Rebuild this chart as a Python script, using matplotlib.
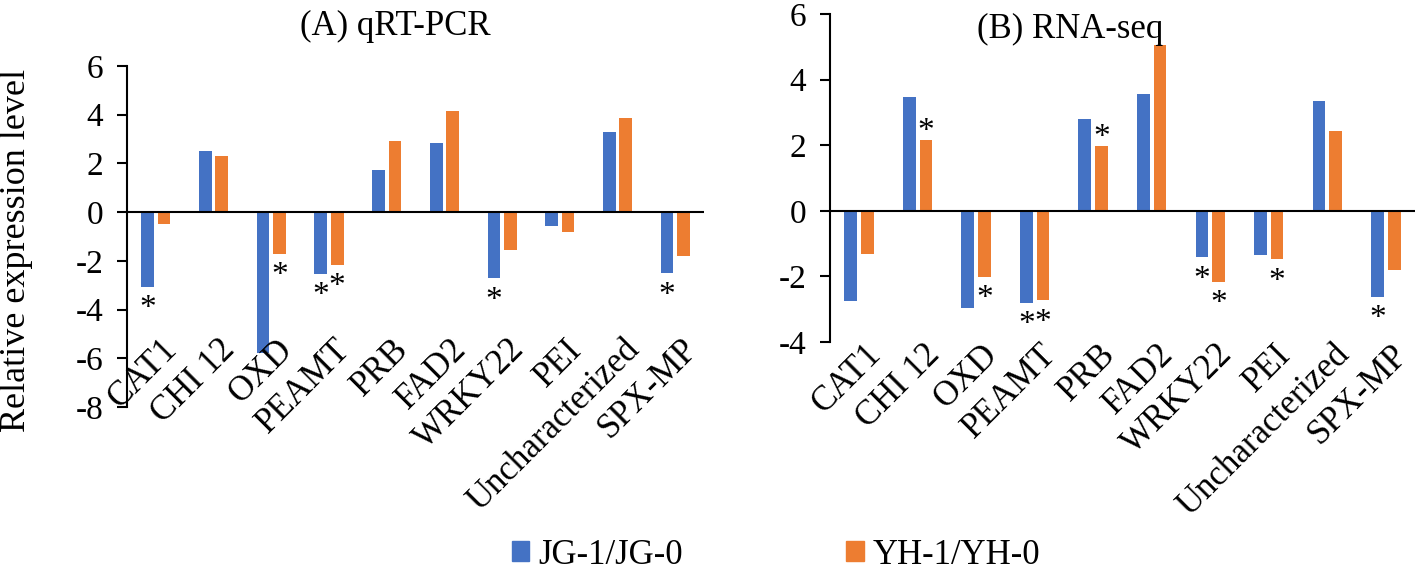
import matplotlib.pyplot as plt
from matplotlib.patches import Patch
import numpy as np

plt.rcParams['font.family'] = ['Liberation Serif', 'DejaVu Serif']

genes = ['CAT1', 'CHI 12', 'OXD', 'PEAMT', 'PRB', 'FAD2', 'WRKY22', 'PEI',
         'Uncharacterized', 'SPX-MP']

# (A) qRT-PCR
qpcr_jg = [-3.07, 2.49, -5.80, -2.53, 1.75, 2.82, -2.71, -0.55, 3.30, -2.50]
qpcr_yh = [-0.50, 2.30, -1.70, -2.15, 2.92, 4.16, -1.56, -0.81, 3.85, -1.80]
# (B) RNA-seq
seq_jg = [-2.74, 3.47, -2.97, -2.80, 2.81, 3.56, -1.42, -1.35, 3.36, -2.62]
seq_yh = [-1.33, 2.16, -2.01, -2.72, 1.98, 5.05, -2.16, -1.47, 2.44, -1.80]

# significance marks (1 = *)
qpcr_jg_sig = [1, 0, 0, 1, 0, 0, 1, 0, 0, 1]
qpcr_yh_sig = [0, 0, 1, 1, 0, 0, 0, 0, 0, 0]
seq_jg_sig = [0, 0, 0, 1, 0, 0, 1, 0, 0, 1]
seq_yh_sig = [0, 1, 1, 1, 1, 0, 1, 1, 0, 0]

blue = '#4472C4'
orange = '#ED7D31'
fs = 24

fig = plt.figure(figsize=(14.18, 5.70), dpi=100)
axA = fig.add_axes([0.0896, 0.286, 0.4069, 0.5982])
axB = fig.add_axes([0.5853, 0.400, 0.4126, 0.5754])

x = np.arange(len(genes))
w = 0.22
off = 0.142


def stars(ax, vals, sig, dx):
    for i, (v, s) in enumerate(zip(vals, sig)):
        if s:
            dy = -22 if v < 0 else 0
            ax.annotate('*', (i + dx, v), xytext=(0, dy), textcoords='offset points',
                        ha='center', va='baseline', fontsize=fs)


def panel(ax, jg, yh, jg_sig, yh_sig, ylim, yticks, label_y, title, title_pos):
    ax.bar(x - off, jg, w, color=blue)
    ax.bar(x + off, yh, w, color=orange)
    ax.axhline(0, color='black', lw=1.5, zorder=3)
    ax.set_xlim(-0.5, 9.5)
    ax.set_ylim(*ylim)
    ax.set_yticks(yticks)
    ax.set_yticklabels([str(t) for t in yticks])
    ax.set_xticks([])
    for s in ['top', 'right', 'bottom']:
        ax.spines[s].set_visible(False)
    ax.spines['left'].set_linewidth(1.5)
    ax.tick_params(axis='y', labelsize=fs, length=7, width=1.5, pad=10)
    for i, g in enumerate(genes):
        ax.text(i + 0.09, label_y, g, transform=ax.get_xaxis_transform(),
                rotation=45, ha='right', va='top', rotation_mode='anchor',
                fontsize=25)
    stars(ax, jg, jg_sig, -off)
    stars(ax, yh, yh_sig, off)
    fig.text(title_pos[0], title_pos[1], title, ha='center', va='center', fontsize=25)


panel(axA, qpcr_jg, qpcr_yh, qpcr_jg_sig, qpcr_yh_sig, (-8, 6),
      [-8, -6, -4, -2, 0, 2, 4, 6], 0.217, '(A) qRT-PCR', (395 / 1418, 1 - 26 / 570))
panel(axB, seq_jg, seq_yh, seq_jg_sig, seq_yh_sig, (-4, 6),
      [-4, -2, 0, 2, 4, 6], 0.012, '(B) RNA-seq', (1070 / 1418, 1 - 29 / 570))

fig.text(0.0115, 0.56, 'Relative expression level', rotation=90,
         ha='center', va='center', fontsize=26)

handles = [Patch(color=blue, label='JG-1/JG-0'), Patch(color=orange, label='YH-1/YH-0')]
fig.legend(handles=handles, loc='center left', bbox_to_anchor=(512 / 1418, 1 - 555 / 570),
           ncol=2, frameon=False, fontsize=25, handlelength=0.5, handleheight=0.5,
           handletextpad=0.26, columnspacing=4.7, borderpad=0, borderaxespad=0)

fig.savefig('out.png', dpi=100)
